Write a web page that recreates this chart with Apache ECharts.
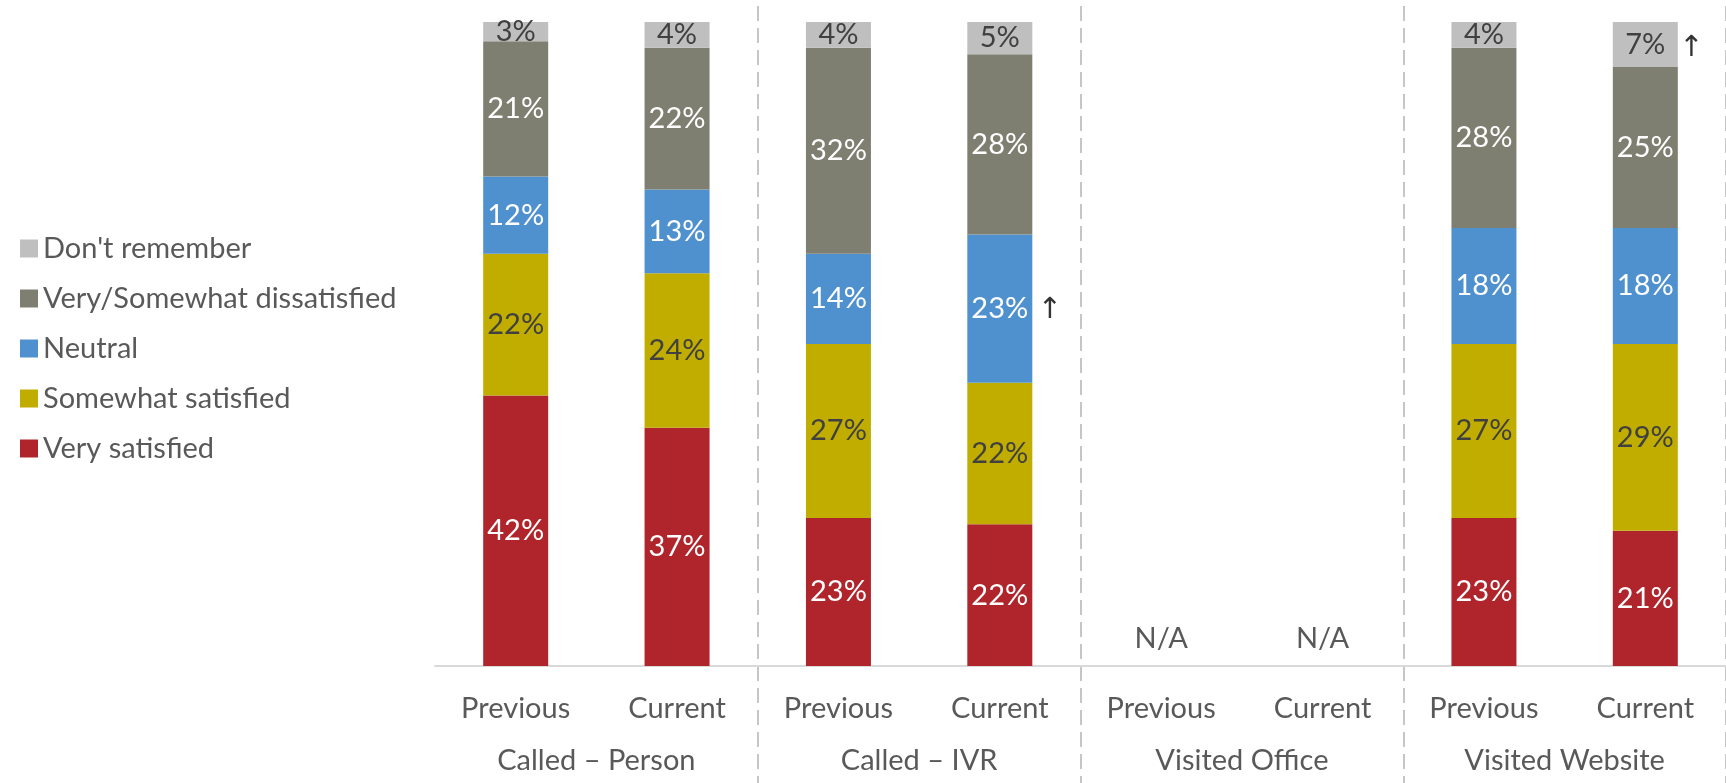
<!DOCTYPE html>
<html>
<head>
<meta charset="utf-8">
<script src="https://cdn.jsdelivr.net/npm/echarts@6/dist/echarts.min.js"></script>
<style>
  html, body { margin: 0; padding: 0; background: #fff; }
  #chart { width: 1726px; height: 783px; }
</style>
</head>
<body>
<div id="chart"></div>
<script>
// Satisfaction by contact channel, previous vs current wave (percent of respondents)
const categories = ['Previous', 'Current', 'Previous', 'Current', 'Previous', 'Current', 'Previous', 'Current'];
const groups = ['Called – Person', 'Called – IVR', 'Visited Office', 'Visited Website'];

// null = not asked in that channel (shown as N/A)
const verySatisfied     = [42, 37, 23, 22, null, null, 23, 21];
const somewhatSatisfied = [22, 24, 27, 22, null, null, 27, 29];
const neutral           = [12, 13, 14, 23, null, null, 18, 18];
const dissatisfied      = [21, 22, 32, 28, null, null, 28, 25];
const dontRemember      = [3, 4, 4, 5, null, null, 4, 7];

const seriesNames = ['Very satisfied', 'Somewhat satisfied', 'Neutral', 'Very/Somewhat dissatisfied', "Don't remember"];
const seriesValues = [verySatisfied, somewhatSatisfied, neutral, dissatisfied, dontRemember];
const seriesColors = ['#AF252B', '#C0AD00', '#4F91CF', '#7E7F70', '#BFBFBF'];
const labelColors = ['#FFFFFF', '#404040', '#FFFFFF', '#FFFFFF', '#404040'];
const legendOrder = ["Don't remember", 'Very/Somewhat dissatisfied', 'Neutral', 'Somewhat satisfied', 'Very satisfied'];

// Significant increases: [series index, category index]
const increases = [[2, 3], [4, 7]];

const FONT = 'Lato, "Open Sans", sans-serif';
const TEXT = '#595959';

function segmentMid(s, c) {
  let below = 0;
  for (let i = 0; i < s; i++) below += seriesValues[i][c] || 0;
  return below + seriesValues[s][c] / 2;
}

const barSeries = seriesValues.map((vals, s) => ({
  name: seriesNames[s],
  type: 'bar',
  stack: 'total',
  barWidth: 65,
  itemStyle: { color: seriesColors[s] },
  label: {
    show: true,
    position: 'inside',
    formatter: p => p.value + '%',
    color: labelColors[s],
    fontFamily: FONT,
    fontSize: 29
  },
  data: vals.map(v => {
    if (v !== null) return v;
    if (s === 0) {
      return {
        value: 0,
        label: { show: true, position: 'top', distance: 13, formatter: 'N/A', color: TEXT }
      };
    }
    return { value: null, label: { show: false } };
  })
}));

const arrowSeries = {
  type: 'scatter',
  symbolSize: 0,
  silent: true,
  z: 5,
  label: {
    show: true,
    position: 'inside',
    formatter: '↑',
    color: '#000',
    fontFamily: '"DejaVu Sans", sans-serif',
    fontSize: 29
  },
  data: increases.map(([s, c]) => ({
    value: [c, segmentMid(s, c)],
    label: { offset: s === 2 ? [50, 2] : [46, 4] }
  }))
};

const chart = echarts.init(document.getElementById('chart'), null, { renderer: 'canvas' });
chart.setOption({
  animation: false,
  backgroundColor: '#fff',
  legend: {
    data: legendOrder,
    orient: 'vertical',
    left: 15,
    top: 229,
    icon: 'rect',
    itemWidth: 18,
    itemHeight: 18,
    itemGap: 21,
    textStyle: { fontFamily: FONT, fontSize: 29, color: TEXT, lineHeight: 29 }
  },
  grid: [
    { left: 435, right: -7, top: 22, bottom: 117 },
    { left: 435, right: -7, top: 6, bottom: 0 }
  ],
  xAxis: [
    {
      type: 'category',
      gridIndex: 0,
      data: categories,
      axisLine: { lineStyle: { color: '#D9D9D9', width: 2 } },
      axisTick: { show: false },
      axisLabel: { fontFamily: FONT, fontSize: 29, color: TEXT, margin: 28 },
      splitLine: { show: false }
    },
    {
      type: 'category',
      gridIndex: 0,
      position: 'bottom',
      offset: 53,
      data: groups,
      axisLine: { show: false },
      axisTick: { show: false },
      axisLabel: { fontFamily: FONT, fontSize: 29, color: TEXT, margin: 27 },
      splitLine: { show: false }
    },
    {
      // group separators spanning the full height
      type: 'category',
      gridIndex: 1,
      data: categories,
      axisLine: { show: false },
      axisTick: { show: false },
      axisLabel: { show: false },
      splitLine: {
        show: true,
        interval: (i) => i > 0 && i % 2 === 0,
        lineStyle: { color: '#C6C6C6', width: 2, type: [15, 7] }
      }
    }
  ],
  yAxis: [
    { type: 'value', gridIndex: 0, min: 0, max: 100, show: false },
    { type: 'value', gridIndex: 1, min: 0, max: 1, show: false }
  ],
  series: barSeries.concat([arrowSeries])
});
</script>
</body>
</html>
